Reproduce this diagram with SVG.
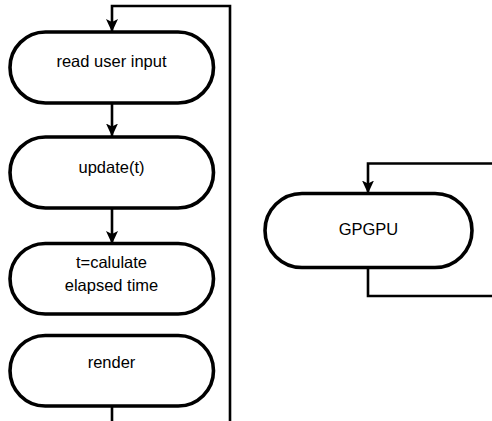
<svg xmlns="http://www.w3.org/2000/svg" width="492" height="421" viewBox="0 0 492 421">
  <style>
    .node { fill: #ffffff; stroke: #000000; stroke-width: 3.6; }
    .edge { fill: none; stroke: #000000; stroke-width: 2.6; }
    .label { font-family: "Liberation Sans", Arial, Helvetica, sans-serif; font-size: 16.5px; fill: #000000; text-anchor: middle; }
  </style>
  <defs>
    <marker id="arrow" markerUnits="userSpaceOnUse" viewBox="0 0 13 12" refX="12.5" refY="6" markerWidth="13" markerHeight="12" orient="auto">
      <path d="M0,0 L13,6 L0,12 L3,6 Z" fill="#000000" stroke="none"/>
    </marker>
  </defs>
  <rect width="492" height="421" fill="#ffffff"/>
  <g id="connectors">
    <path class="edge" d="M112,103 V136" marker-end="url(#arrow)"/>
    <path class="edge" d="M112,208 V243.5" marker-end="url(#arrow)"/>
    <path class="edge" d="M112,406 V440 H230 V6 H112 V31.5" marker-end="url(#arrow)"/>
    <path class="edge" d="M368,267.5 V296 H500 V163.5 H368 V193" marker-end="url(#arrow)"/>
  </g>
  <g id="read-user-input">
    <rect class="node" x="10" y="32" width="203.5" height="71" rx="35.5" ry="35.5"/>
    <text class="label" x="111.5" y="66.5">read user input</text>
  </g>
  <g id="update">
    <rect class="node" x="10" y="137" width="203.5" height="71" rx="35.5" ry="35.5"/>
    <text class="label" x="111.5" y="172.5">update(t)</text>
  </g>
  <g id="calculate-time">
    <rect class="node" x="10" y="243.5" width="203.5" height="70.5" rx="35.25" ry="35.25"/>
    <text class="label" x="111.5" y="267.5">t=calulate</text>
    <text class="label" x="111.5" y="290.5">elapsed time</text>
  </g>
  <g id="render">
    <rect class="node" x="10" y="335.5" width="203.5" height="70.5" rx="35.25" ry="35.25"/>
    <text class="label" x="111.5" y="367.5">render</text>
  </g>
  <g id="gpgpu">
    <rect class="node" x="265" y="193.5" width="207" height="74" rx="37" ry="37"/>
    <text class="label" x="368.5" y="234.5">GPGPU</text>
  </g>
</svg>
